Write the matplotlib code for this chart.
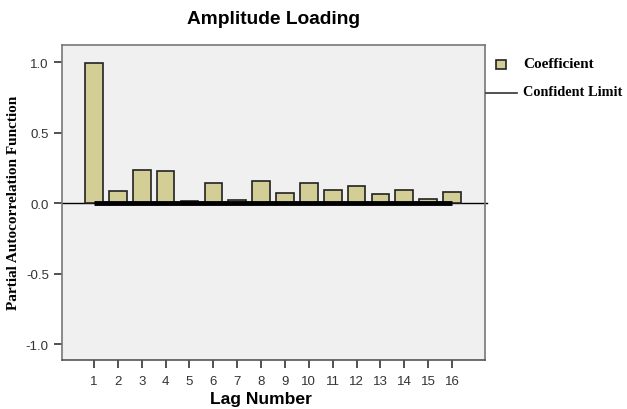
import numpy as np
import matplotlib.pyplot as plt
from matplotlib.lines import Line2D
from matplotlib.patches import Rectangle

# lag numbers and partial autocorrelation coefficients
lags = np.arange(1, 17)
coef = [0.99, 0.087, 0.234, 0.227, 0.016, 0.142, 0.026, 0.158,
        0.073, 0.142, 0.092, 0.123, 0.069, 0.092, 0.028, 0.080]
conf_limit = [0.0] * len(lags)
yticks = [-1.0, -0.5, 0.0, 0.5, 1.0]

bar_color = '#d3cd96'

fig = plt.figure(figsize=(6.27, 4.10), dpi=100)
ax = fig.add_axes([0.0989, 0.1195, 0.6746, 0.768])
ax.set_facecolor('#f0f0f0')

ax.axhline(0, color='black', lw=1.0, zorder=1, clip_on=False, xmax=1.005)
ax.bar(lags, coef, width=0.74, color=bar_color, edgecolor='#222222', lw=1.2, zorder=2)
ax.plot(lags, conf_limit, color='black', lw=3.5, zorder=3, solid_capstyle='butt')

ax.set_xlim(-0.34, 17.38)
ax.set_ylim(-1.11, 1.12)
ax.set_yticks(yticks)
ax.set_yticklabels(['%.1f' % v for v in yticks])
ax.set_xticks(lags)

for s in ax.spines.values():
    s.set_color('#777777')
    s.set_linewidth(1.2)
ax.spines['bottom'].set_color('#555555')

ax.tick_params(axis='both', direction='out', length=6, width=1.2, color='#333333',
               labelsize=9.5, labelcolor='#333333')
ax.tick_params(axis='x', pad=5)
for lbl in ax.get_xticklabels() + ax.get_yticklabels():
    lbl.set_family('Liberation Sans')

ax.set_title('Amplitude Loading', fontsize=13.8, fontweight='bold',
             family='Liberation Sans', pad=16)
ax.set_xlabel('Lag Number', fontsize=12.6, fontweight='bold',
              family='Liberation Sans')
ax.xaxis.set_label_coords((260.5 - 62) / 423, -(400 - 361) / 315, transform=ax.transAxes)
ax.xaxis.label.set_va('center')
ax.set_ylabel('Partial Autocorrelation Function', fontsize=11, fontweight='bold',
              family='Liberation Serif')
ax.yaxis.set_label_coords(-(62 - 13) / 423, (361 - 202.5) / 315, transform=ax.transAxes)
ax.yaxis.label.set_va('center')

# legend drawn beside the plot
fig.add_artist(Rectangle((496 / 627, 1 - 70 / 410), 10 / 627, 9 / 410,
                         transform=fig.transFigure, facecolor=bar_color,
                         edgecolor='#222222', lw=1.2))
fig.text(523 / 627, 1 - 65 / 410, 'Coefficient', fontsize=11, fontweight='bold',
         family='Liberation Serif', va='center')
fig.add_artist(Line2D([486 / 627, 517 / 627], [1 - 94 / 410, 1 - 94 / 410],
                      transform=fig.transFigure, color='#333333', lw=1.2))
fig.text(523 / 627, 1 - 93 / 410, 'Confident Limit', fontsize=10.3, fontweight='bold',
         family='Liberation Serif', va='center')

fig.savefig('out.png', dpi=100)
